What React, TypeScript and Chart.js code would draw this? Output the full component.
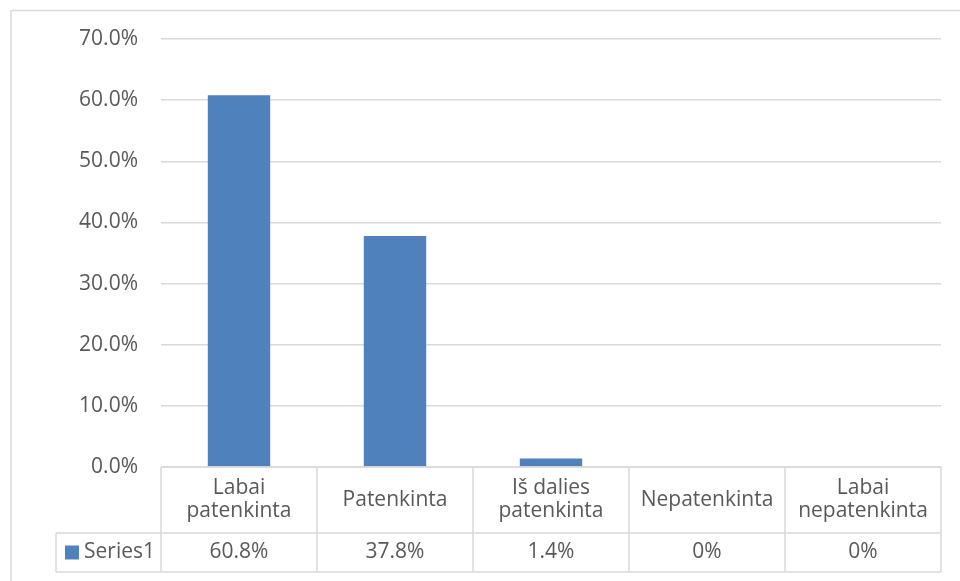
import React, { useEffect, useRef } from "react";
import { Chart, registerables } from "chart.js";

Chart.register(...registerables);

const categories: string[][] = [
  ["Labai", "patenkinta"],
  ["Patenkinta"],
  ["Iš dalies", "patenkinta"],
  ["Nepatenkinta"],
  ["Labai", "nepatenkinta"],
];
const seriesName = "Series1";
const values: number[] = [60.8, 37.8, 1.4, 0, 0];
const valueLabels: string[] = ["60.8%", "37.8%", "1.4%", "0%", "0%"];
const yTicks: number[] = [0, 10, 20, 30, 40, 50, 60, 70];

const FONT = '21px "Open Sans"';
const TEXT = "#595959";
const LINE = "#d9d9d9";
const BAR = "#4F81BD";

const tablePlugin = {
  id: "dataTable",
  beforeDraw(chart: any) {
    const { ctx, width, height } = chart;
    ctx.save();
    ctx.fillStyle = "#ffffff";
    ctx.fillRect(0, 0, width, height);
    ctx.restore();
  },
  afterDraw(chart: any) {
    const { ctx, chartArea, scales } = chart;
    const x = scales.x;
    const n = categories.length;
    const colW = (chartArea.right - chartArea.left) / n;
    const top = chartArea.bottom;
    const headerH = 66;
    const rowH = 39;
    const keyLeft = 56;
    const line = (x1: number, y1: number, x2: number, y2: number) => {
      ctx.beginPath();
      ctx.moveTo(x1, y1);
      ctx.lineTo(x2, y2);
      ctx.stroke();
    };
    ctx.save();
    ctx.strokeStyle = LINE;
    ctx.lineWidth = 1.5;
    line(chartArea.left, top, chartArea.right, top);
    line(keyLeft, top + headerH, chartArea.right, top + headerH);
    line(keyLeft, top + headerH + rowH, chartArea.right, top + headerH + rowH);
    for (let i = 0; i <= n; i++) {
      const xe = chartArea.left + i * colW;
      line(xe, top, xe, top + headerH + rowH);
    }
    line(keyLeft, top + headerH, keyLeft, top + headerH + rowH);

    // outer chart frame
    line(11, 10.5, 960, 10.5);
    line(11, 10.5, 11, 581);

    ctx.fillStyle = TEXT;
    ctx.font = FONT;
    ctx.textAlign = "center";
    ctx.textBaseline = "middle";
    const lh = 23;
    categories.forEach((lines, i) => {
      const cx = x.getPixelForValue(i);
      const cy = top + headerH / 2;
      lines.forEach((t, j) => {
        ctx.fillText(t, cx, cy + (j - (lines.length - 1) / 2) * lh);
      });
      ctx.fillText(valueLabels[i], cx, top + headerH + rowH / 2);
    });
    ctx.fillStyle = BAR;
    ctx.fillRect(65, top + headerH + rowH / 2 - 7, 14, 14);
    ctx.fillStyle = TEXT;
    ctx.textAlign = "left";
    ctx.fillText(seriesName, 84, top + headerH + rowH / 2);
    ctx.restore();
  },
};

export default function App() {
  const ref = useRef<HTMLCanvasElement | null>(null);
  useEffect(() => {
    if (!ref.current) return;
    const chart = new Chart(ref.current, {
      type: "bar",
      data: {
        labels: categories.map((c) => c.join(" ")),
        datasets: [
          {
            label: seriesName,
            data: values,
            backgroundColor: BAR,
            categoryPercentage: 1,
            barPercentage: 0.4,
          },
        ],
      },
      options: {
        animation: false,
        responsive: false,
        maintainAspectRatio: false,
        layout: { padding: { left: 0, top: 39, right: 19, bottom: 114 } },
        plugins: {
          legend: { display: false },
          tooltip: { enabled: false },
        },
        scales: {
          x: { display: false },
          y: {
            min: 0,
            max: 70,
            afterBuildTicks: (scale: any) => {
              scale.ticks = yTicks.map((v) => ({ value: v }));
            },
            afterFit: (scale: any) => {
              scale.width = 161;
            },
            border: { display: false },
            grid: { color: LINE, lineWidth: 1.5, drawTicks: false },
            ticks: {
              padding: 23,
              color: TEXT,
              font: { family: "Open Sans", size: 21 },
              callback: (v: any) => Number(v).toFixed(1) + "%",
            },
          },
        },
      },
      plugins: [tablePlugin],
    });
    return () => chart.destroy();
  }, []);
  return (
    <div style={{ position: "absolute", left: 0, top: 0, width: 960, height: 581 }}>
      <canvas ref={ref} width={960} height={581} />
    </div>
  );
}
